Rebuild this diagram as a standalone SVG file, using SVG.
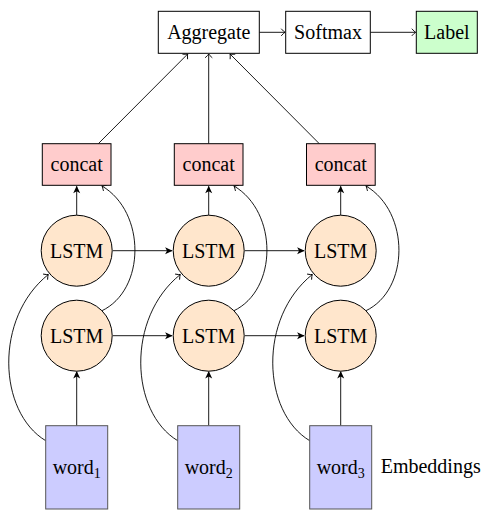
<svg xmlns="http://www.w3.org/2000/svg" width="487" height="516" viewBox="0 0 487 516">
<defs>
<style>
text{font-family:'Liberation Serif','DejaVu Serif',serif;font-size:20px;fill:#000;text-anchor:middle}
.box{stroke:#000;stroke-width:1}
.plain{fill:#fff}
.lab{fill:#ccffcc}
.cat{fill:#ffcccc}
.lstm{fill:#ffe6cc;stroke:#000;stroke-width:1}
.word{fill:#ccccff;stroke:#555;stroke-width:1}
.c{fill:none;stroke:#000;stroke-width:0.9}
.to{marker-end:url(#to)}
.st{marker-end:url(#st)}
.sub{font-size:14px}
</style>
<marker id="to" markerUnits="userSpaceOnUse" markerWidth="10" markerHeight="10" refX="0" refY="0" viewBox="-6 -5 7 10" orient="auto" overflow="visible">
<path d="M-3.8,-3.6 Q-1.2,-0.6 0,0 Q-1.2,0.6 -3.8,3.6" fill="none" stroke="#000" stroke-width="0.9"/>
</marker>
<marker id="st" markerUnits="userSpaceOnUse" markerWidth="10" markerHeight="10" refX="0" refY="0" viewBox="-7 -4 8 8" orient="auto" overflow="visible">
<path d="M0.5,0 L-5.5,-2.8 L-4,0 L-5.5,2.8 Z" fill="#000"/>
</marker>
</defs>

<g id="connectors">
<line class="c to" x1="259.3" y1="32.3" x2="285" y2="32.3"/>
<line class="c to" x1="370.3" y1="32.3" x2="415.6" y2="32.3"/>
<line class="c to" x1="98.3" y1="143.7" x2="187.7" y2="54"/>
<line class="c to" x1="208.7" y1="143.7" x2="208.7" y2="54"/>
<line class="c to" x1="319.3" y1="143.7" x2="230" y2="54"/>
<line class="c st" x1="76.7" y1="215" x2="76.7" y2="186.3"/>
<line class="c st" x1="208.7" y1="215" x2="208.7" y2="186.3"/>
<line class="c st" x1="340.7" y1="215" x2="340.7" y2="186.3"/>
<line class="c st" x1="76.7" y1="425.7" x2="76.7" y2="371.5"/>
<line class="c st" x1="208.7" y1="425.7" x2="208.7" y2="371.5"/>
<line class="c st" x1="340.7" y1="425.7" x2="340.7" y2="371.5"/>
<line class="c st" x1="112.7" y1="250.7" x2="172" y2="250.7"/>
<line class="c st" x1="244.7" y1="250.7" x2="304" y2="250.7"/>
<line class="c st" x1="112.7" y1="335.7" x2="172" y2="335.7"/>
<line class="c st" x1="244.7" y1="335.7" x2="304" y2="335.7"/>
<path class="c to" d="M45.7,440.7 C-2,412 -6,318 48.3,274.5"/>
<path class="c to" d="M177.7,440.7 C130,412 126,318 180.3,274.5"/>
<path class="c to" d="M309.7,440.7 C262,412 258,318 312.3,274.5"/>
<path class="c to" d="M101.4,311 C146,290 146,212 102,186"/>
<path class="c to" d="M233.4,311 C278,290 278,212 234,186"/>
<path class="c to" d="M365.4,311 C410,290 410,212 366,186"/>
</g>

<g font-family="Liberation Serif, DejaVu Serif, serif">
<g id="aggregate"><rect class="box plain" x="158.3" y="11.3" width="101" height="42"/><text x="208.8" y="38.8">Aggregate</text></g>
<g id="softmax"><rect class="box plain" x="285.7" y="11.3" width="84.6" height="42"/><text x="328" y="38.8">Softmax</text></g>
<g id="label"><rect class="box lab" x="416.3" y="11.3" width="61" height="42"/><text x="446.8" y="38.8">Label</text></g>

<g id="concat1"><rect class="box cat" x="42.3" y="143.7" width="68.7" height="41.6"/><text x="76.7" y="171">concat</text></g>
<g id="concat2"><rect class="box cat" x="174.3" y="143.7" width="68.7" height="41.6"/><text x="208.7" y="171">concat</text></g>
<g id="concat3"><rect class="box cat" x="306.5" y="143.7" width="68.7" height="41.6"/><text x="340.8" y="171">concat</text></g>

<g id="lstm-up1"><circle class="lstm" cx="76.7" cy="250.7" r="35.5"/><text x="76.7" y="257.7">LSTM</text></g>
<g id="lstm-up2"><circle class="lstm" cx="208.7" cy="250.7" r="35.5"/><text x="208.7" y="257.7">LSTM</text></g>
<g id="lstm-up3"><circle class="lstm" cx="340.7" cy="250.7" r="35.5"/><text x="340.7" y="257.7">LSTM</text></g>
<g id="lstm-low1"><circle class="lstm" cx="76.7" cy="335.7" r="35.5"/><text x="76.7" y="342.7">LSTM</text></g>
<g id="lstm-low2"><circle class="lstm" cx="208.7" cy="335.7" r="35.5"/><text x="208.7" y="342.7">LSTM</text></g>
<g id="lstm-low3"><circle class="lstm" cx="340.7" cy="335.7" r="35.5"/><text x="340.7" y="342.7">LSTM</text></g>

<g id="word1"><rect class="word" x="45.7" y="425.7" width="62" height="83.3"/><text x="76.7" y="474">word<tspan class="sub" dy="4">1</tspan></text></g>
<g id="word2"><rect class="word" x="177.7" y="425.7" width="62" height="83.3"/><text x="208.7" y="474">word<tspan class="sub" dy="4">2</tspan></text></g>
<g id="word3"><rect class="word" x="309.7" y="425.7" width="62" height="83.3"/><text x="340.7" y="474">word<tspan class="sub" dy="4">3</tspan></text></g>

<g id="embeddings"><text x="380.7" y="473.3" style="text-anchor:start">Embeddings</text></g>
</g>
</svg>
